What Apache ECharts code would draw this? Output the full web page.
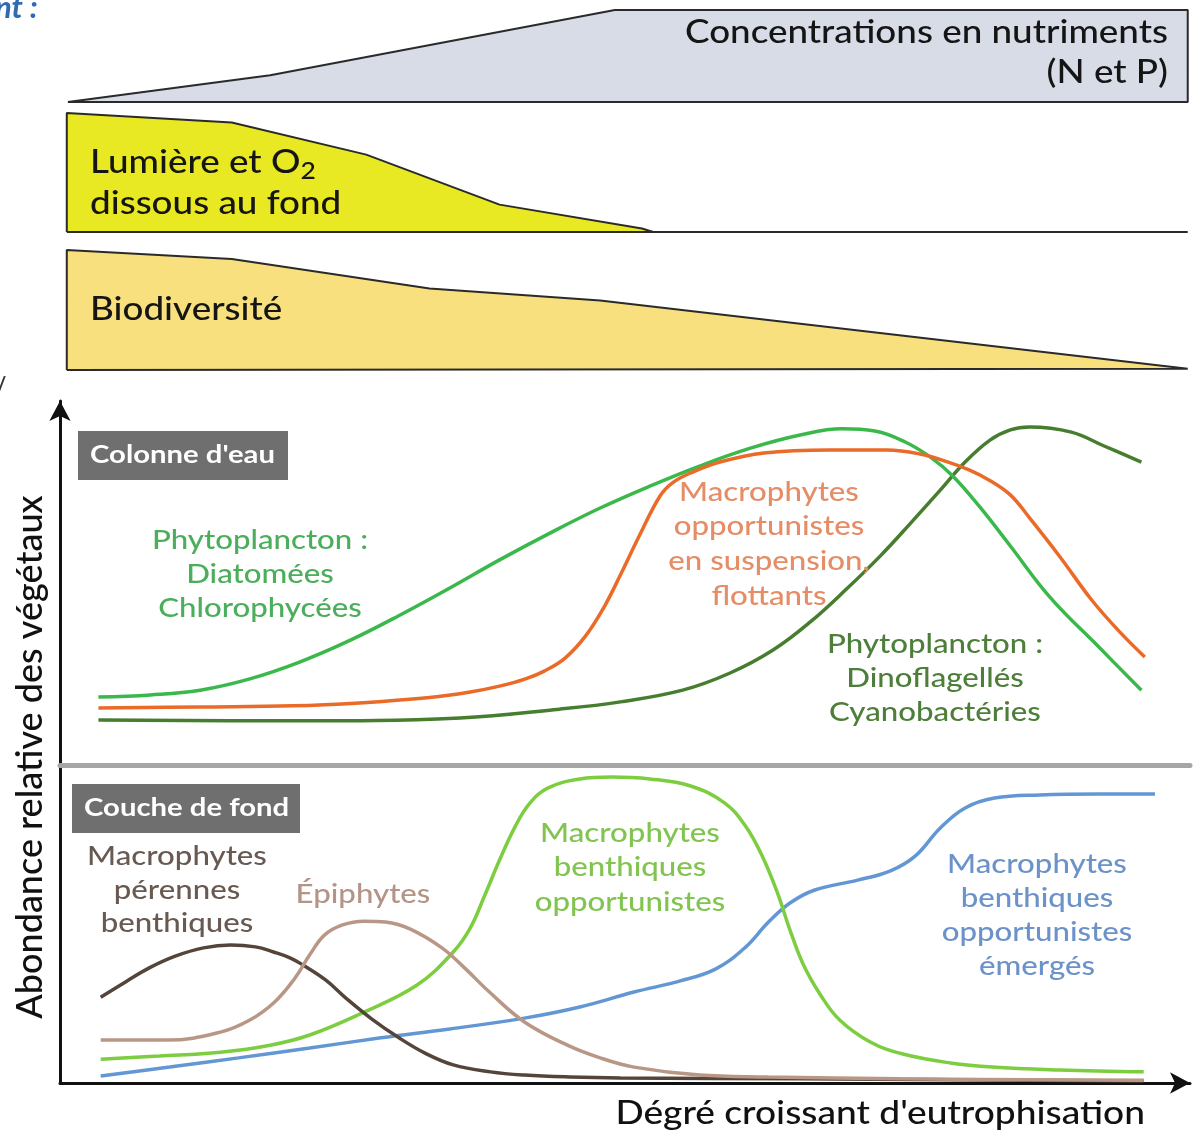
<!DOCTYPE html>
<html>
<head>
<meta charset="utf-8">
<script src="https://cdn.jsdelivr.net/npm/echarts@6/dist/echarts.min.js"></script>
<style>
  html, body { margin: 0; padding: 0; background: #fff; }
  #chart { width: 1198px; height: 1133px; }
</style>
</head>
<body>
<div id="chart"></div>
<script>
// axe commun : degré d'eutrophisation 0-100 ; ordonnées : abondance relative 0-100

// bandes du haut
const nutriments = [[0.7, 0], [18.6, 29], [49.1, 100], [99.8, 100]];
const lumiereO2 = [[0.6, 100], [15.2, 92], [27.1, 65], [38.9, 23], [51.5, 3], [52.5, 0], [99.8, 0]];
const biodiversite = [[0.6, 100], [15.2, 92.5], [32.7, 68], [47.8, 58], [99.8, 1]];

// colonne d'eau
const diatomees = [[3.4, 18.6], [8.0, 19.2], [12.4, 20.5], [16.8, 23.6], [21.2, 28.2], [25.7, 34.2],
  [30.1, 41.1], [34.5, 48.5], [38.9, 56.2], [43.4, 63.6], [47.8, 70.4], [52.2, 76.4], [56.6, 81.9],
  [61.1, 86.8], [65.5, 90.4], [69.2, 92.1], [72.1, 91.5], [74.8, 88.5], [77.0, 84.4], [79.0, 79.2],
  [81.4, 70.7], [84.1, 60.0], [87.6, 46.0], [92.0, 32.1], [95.7, 20.5]];
const macroSuspension = [[3.4, 15.6], [12.4, 15.9], [20.6, 16.2], [26.5, 17.0], [32.5, 18.4], [36.3, 20.0],
  [38.9, 21.6], [41.2, 23.6], [42.9, 25.8], [44.7, 29.3], [46.5, 35.3], [48.1, 43.0], [49.6, 52.1],
  [51.3, 63.0], [53.1, 73.7], [54.2, 77.3], [55.8, 80.0], [58.4, 83.0], [62.3, 85.5], [68.1, 86.3],
  [73.2, 86.3], [76.1, 85.2], [78.6, 83.0], [80.5, 80.8], [82.2, 78.1], [84.1, 74.0], [85.8, 67.7],
  [88.5, 57.0], [91.3, 45.2], [93.8, 36.4], [96.0, 29.6]];
const dinoflagelles = [[3.4, 12.3], [20.6, 12.1], [35.4, 12.9], [44.2, 15.3], [49.6, 17.3], [55.1, 20.5],
  [59.3, 25.2], [63.1, 31.5], [66.4, 39.2], [69.6, 48.2], [72.6, 57.3], [75.2, 66.0], [77.9, 75.3],
  [80.1, 83.0], [82.3, 89.0], [84.1, 91.8], [85.8, 92.6], [89.5, 91.2], [92.4, 87.4], [95.7, 83.0]];

// couche de fond
const perennes = [[3.6, 27.0], [5.8, 31.8], [7.9, 36.2], [10.2, 39.9], [12.7, 42.5], [15.1, 43.4],
  [17.3, 42.8], [18.9, 41.2], [20.4, 39.3], [21.5, 37.1], [23.5, 32.4], [25.3, 26.7], [27.6, 20.1],
  [30.0, 14.2], [32.3, 9.4], [34.8, 5.7], [38.1, 3.5], [41.1, 2.5], [45.1, 1.9], [49.6, 1.6],
  [65.5, 1.3], [95.9, 0.6]];
const epiphytes = [[3.6, 13.5], [9.5, 13.5], [14.2, 16.0], [16.8, 19.8], [19.0, 25.5], [20.8, 33.0],
  [22.1, 40.3], [23.4, 46.5], [25.0, 49.7], [26.9, 50.9], [28.8, 50.6], [31.0, 48.4], [33.8, 42.5],
  [35.8, 36.2], [38.0, 28.6], [41.1, 19.2], [44.9, 11.9], [47.8, 7.9], [50.8, 5.0], [56.6, 2.5],
  [62.7, 1.9], [74.3, 1.3], [95.9, 0.9]];
const benthOpport = [[3.6, 7.5], [8.8, 8.5], [14.2, 9.7], [18.6, 11.9], [22.1, 15.1], [26.9, 22.3],
  [31.6, 30.8], [34.8, 41.2], [36.3, 48.7], [37.6, 59.1], [38.9, 70.1], [40.3, 80.8], [41.6, 88.1],
  [43.2, 92.8], [46.0, 95.6], [48.8, 96.2], [52.2, 95.6], [55.8, 93.4], [58.8, 88.1], [60.6, 81.1],
  [62.1, 71.7], [63.5, 59.7], [64.6, 48.1], [65.8, 37.1], [67.3, 27.7], [69.0, 19.8], [71.7, 12.9],
  [74.6, 9.1], [78.8, 6.3], [82.5, 5.0], [88.5, 4.1], [95.9, 3.5]];
const emerges = [[3.6, 2.2], [9.7, 5.0], [15.8, 7.9], [22.1, 11.0], [28.4, 14.2], [34.5, 17.0],
  [41.1, 20.4], [46.0, 23.9], [50.8, 28.6], [54.9, 32.1], [58.0, 35.8], [60.6, 42.5], [62.7, 50.6],
  [64.6, 56.6], [66.8, 60.7], [70.6, 63.8], [73.5, 66.7], [75.7, 71.4], [77.9, 80.2], [80.1, 86.5],
  [82.7, 89.6], [86.7, 90.6], [92.0, 90.9], [96.9, 90.9]];

const chart = echarts.init(document.getElementById('chart'));

// ferme la bande sur sa ligne de base
function band(points) {
  const x0 = points[0][0], x1 = points[points.length - 1][0];
  return [[x0, 0]].concat(points, [[x1, 0], [x0, 0]]);
}

const grids = [
  { left: 60, right: 8, top: 10, height: 92 },     // nutriments
  { left: 60, right: 8, top: 113, height: 119 },   // lumière
  { left: 60, right: 8, top: 250, height: 120 },   // biodiversité
  { left: 60, right: 8, top: 401, height: 682 },   // axes
  { left: 60, right: 8, top: 400, height: 365 },   // colonne d'eau
  { left: 60, right: 8, top: 765, height: 318 }    // couche de fond
];

const xAxes = grids.map((g, i) => ({
  gridIndex: i, type: 'value', min: 0, max: 100,
  show: i === 3 || i === 4,
  axisTick: { show: false }, axisLabel: { show: false }, splitLine: { show: false },
  axisLine: i === 3
    ? { show: true, symbol: ['none', 'arrow'], symbolSize: [16, 20], lineStyle: { color: '#111', width: 3 } }
    : { show: true, lineStyle: { color: '#a6a6a6', width: 5 } }
}));

const yAxes = grids.map((g, i) => ({
  gridIndex: i, type: 'value', min: 0, max: 100,
  show: i === 3,
  axisTick: { show: false }, axisLabel: { show: false }, splitLine: { show: false },
  axisLine: { show: i === 3, symbol: ['none', 'arrow'], symbolSize: [16, 20], lineStyle: { color: '#111', width: 3 } }
}));
Object.assign(yAxes[3], {
  name: 'Abondance relative des végétaux',
  nameLocation: 'middle', nameGap: 12,
  nameTextStyle: { fontFamily: 'Lato', fontWeight: 500, fontSize: 36, color: '#111', padding: [0, 30, 0, 0] }
});

function bandSeries(idx, points, fill) {
  return {
    type: 'line', xAxisIndex: idx, yAxisIndex: idx, data: band(points),
    symbol: 'none', clip: false, silent: true,
    lineStyle: { color: '#2a2a2a', width: 2 },
    areaStyle: { color: fill, opacity: 1 }
  };
}

function curve(idx, points, color) {
  return {
    type: 'line', xAxisIndex: idx, yAxisIndex: idx, data: points,
    symbol: 'none', smooth: 0.4, clip: false, silent: true,
    lineStyle: { color: color, width: 3.5 }
  };
}

// le texte du schéma est un peu étiré en largeur
function label(x, y, text, color, size, lh, align, sx) {
  return {
    type: 'text', x: x, y: y, z: 100, scaleX: sx || 1.2,
    style: {
      text: text, fill: color, font: '500 ' + size + 'px Lato',
      align: align || 'center', verticalAlign: 'top', lineHeight: lh
    }
  };
}

function tag(x, y, w, h, text) {
  return {
    type: 'group', x: x, y: y, z: 100,
    children: [
      { type: 'rect', shape: { x: 0, y: 0, width: w, height: h }, style: { fill: '#6f6f6f' } },
      { type: 'text', x: 12, y: h / 2, scaleX: 1.22, style: { text: text, fill: '#fff', font: 'bold 24px Lato', verticalAlign: 'middle' } }
    ]
  };
}

chart.setOption({
  animation: false,
  grid: grids,
  xAxis: xAxes,
  yAxis: yAxes,
  series: [
    bandSeries(0, nutriments, '#d7dce7'),
    bandSeries(1, lumiereO2, '#e8e823'),
    bandSeries(2, biodiversite, '#f8e07f'),
    curve(4, dinoflagelles, '#467d2f'),
    curve(4, diatomees, '#3bb84c'),
    curve(4, macroSuspension, '#ea6a28'),
    curve(5, emerges, '#6397d4'),
    curve(5, benthOpport, '#7ccd3f'),
    curve(5, perennes, '#55443a'),
    curve(5, epiphytes, '#b99786')
  ],
  graphic: [
    { type: 'text', x: -5, y: -8, style: { text: 'nt :', fill: '#2f6bb3', font: 'italic bold 31px Lato', verticalAlign: 'top' } },
    { type: 'text', x: -3, y: 376, style: { text: '/', fill: '#333', font: 'bold 20px Lato', verticalAlign: 'top' } },
    label(1168, 13, 'Concentrations en nutriments\n(N et P)', '#151515', 32, 40, 'right', 1.15),
    {
      type: 'text', x: 90, y: 142, z: 100, scaleX: 1.15,
      style: {
        text: 'Lumière et O{s|2}\ndissous au fond', fill: '#151515', font: '500 32px Lato', verticalAlign: 'top', lineHeight: 41,
        rich: { s: { fontSize: 23, fontFamily: 'Lato', fontWeight: 500, fill: '#151515', lineHeight: 36, verticalAlign: 'bottom' } }
      }
    },
    label(90, 290, 'Biodiversité', '#151515', 32, 40, 'left', 1.15),
    tag(78, 431, 210, 49, "Colonne d'eau"),
    tag(72, 784, 228, 49, 'Couche de fond'),
    label(260, 524, 'Phytoplancton :\nDiatomées\nChlorophycées', '#4aae5a', 26, 34),
    label(769, 475, 'Macrophytes\nopportunistes\nen suspension,\nflottants', '#e58d66', 26, 34.7),
    label(935, 628, 'Phytoplancton :\nDinoflagellés\nCyanobactéries', '#4d7e3a', 26, 34),
    label(177, 840, 'Macrophytes\npérennes\nbenthiques', '#685a52', 26, 33.5),
    label(363, 878, 'Épiphytes', '#b39487', 26, 34),
    label(630, 816, 'Macrophytes\nbenthiques\nopportunistes', '#82c450', 26, 34.5),
    label(1037, 848, 'Macrophytes\nbenthiques\nopportunistes\némergés', '#6c93c9', 26, 34),
    label(1145, 1096, "Dégré croissant d'eutrophisation", '#111', 32, 36, 'right', 1.16)
  ]
});
</script>
</body>
</html>
